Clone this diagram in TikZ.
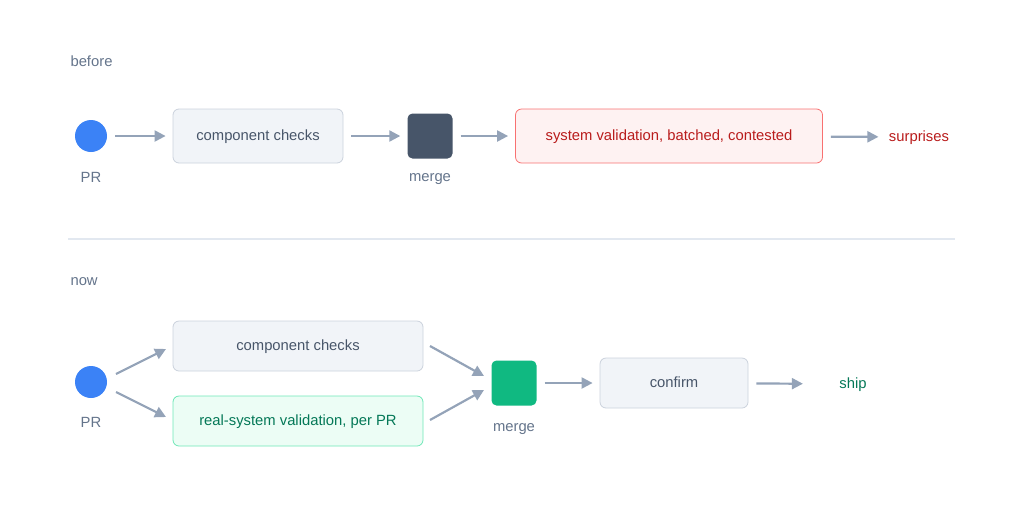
\documentclass[tikz,border=0pt]{standalone}
\usepackage{fontspec}
\setmainfont{Liberation Sans}
\usetikzlibrary{arrows.meta}
\definecolor{slate}{HTML}{64748B}
\definecolor{arrowc}{HTML}{94A3B8}
\definecolor{boxfill}{HTML}{F1F4F8}
\definecolor{boxline}{HTML}{CBD2DC}
\definecolor{darkm}{HTML}{475569}
\definecolor{redfill}{HTML}{FEF2F2}
\definecolor{redline}{HTML}{F87171}
\definecolor{redtext}{HTML}{B91C1C}
\definecolor{grfill}{HTML}{ECFDF5}
\definecolor{grline}{HTML}{6EE7B7}
\definecolor{grtext}{HTML}{047857}
\definecolor{grm}{HTML}{10B981}
\definecolor{prblue}{HTML}{3B82F6}
\definecolor{sep}{HTML}{E2E8F0}
\tikzset{
  stagebox/.style={draw=boxline, fill=boxfill, rounded corners=6pt, line width=0.8pt, text=darkm, font=\fontsize{14.8}{16}\selectfont, text depth=0pt, text height=8pt},
  lbl/.style={text=slate, font=\fontsize{14.8}{16}\selectfont, text depth=0pt, text height=8pt},
  flow/.style={draw=arrowc, line width=2.2pt, -{Triangle[length=11pt,width=11pt]}, shorten <=8pt, shorten >=7pt},
}
\begin{document}
\begin{tikzpicture}[x=1pt,y=-1pt]
\useasboundingbox (0,0) rectangle (1024,523);
  % before
  \node[lbl, anchor=west] (before) at (67,62) {before};
  \node[circle, fill=prblue, minimum size=32pt, inner sep=0pt] (pr1) at (91,136) {};
  \node[lbl] (pr1l) at (91,178) {PR};
  \node[stagebox, minimum width=170pt, minimum height=54pt] (cc1) at (258,136) {component checks};
  \node[fill=darkm, rounded corners=5pt, minimum size=45pt, inner sep=0pt] (m1) at (430,136) {};
  \node[lbl] (m1l) at (430,177) {merge};
  \node[stagebox, draw=redline, fill=redfill, text=redtext, minimum width=307pt, minimum height=54pt] (sv) at (669,136) {system validation, batched, contested};
  \node[lbl, text=redtext] (sur) at (919,137) {surprises};
  \draw[flow] (pr1) -- (cc1);
  \draw[flow] (cc1) -- (m1);
  \draw[flow] (m1) -- (sv);
  \draw[flow] (sv) -- (sur);

  \draw[sep, line width=1.5pt] (68,239) -- (955,239);

  % now
  \node[lbl, anchor=west] (now) at (67,281) {now};
  \node[circle, fill=prblue, minimum size=32pt, inner sep=0pt] (pr2) at (91,382) {};
  \node[lbl] (pr2l) at (91,423) {PR};
  \node[stagebox, minimum width=250pt, minimum height=50pt] (cc2) at (298,346) {component checks};
  \node[stagebox, draw=grline, fill=grfill, text=grtext, minimum width=250pt, minimum height=50pt] (rv) at (298,421) {real-system validation, per PR};
  \node[fill=grm, rounded corners=5pt, minimum size=45pt, inner sep=0pt] (m2) at (514,383) {};
  \node[lbl] (m2l) at (514,427) {merge};
  \node[stagebox, minimum width=148pt, minimum height=50pt] (cf) at (674,383) {confirm};
  \node[lbl, text=grtext] (ship) at (853,384) {ship};
  \coordinate (s1) at (116,374);
  \coordinate (e1) at (166,349);
  \coordinate (s2) at (116,392);
  \coordinate (e2) at (166,417);
  \coordinate (s3) at (430,346);
  \coordinate (e3) at (484,376);
  \coordinate (s4) at (430,420);
  \coordinate (e4) at (484,390);
  \draw[flow, shorten <=0pt, shorten >=0pt] (s1) -- (e1);
  \draw[flow, shorten <=0pt, shorten >=0pt] (s2) -- (e2);
  \draw[flow, shorten <=0pt, shorten >=0pt] (s3) -- (e3);
  \draw[flow, shorten <=0pt, shorten >=0pt] (s4) -- (e4);
  \draw[flow] (m2) -- (cf);
  \draw[flow, shorten >=33pt] (cf) -- (ship);
\end{tikzpicture}
\end{document}
